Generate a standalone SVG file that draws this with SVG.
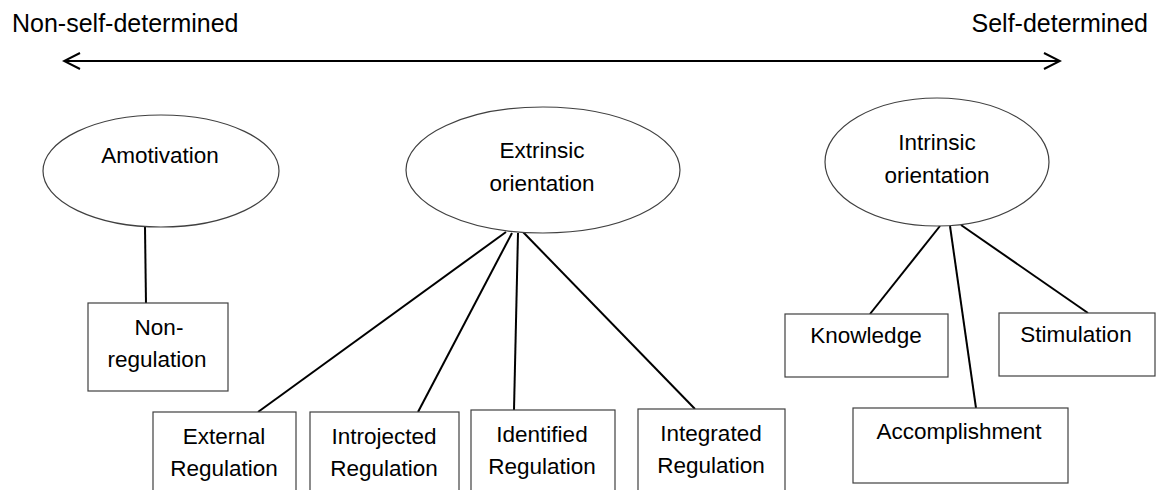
<svg xmlns="http://www.w3.org/2000/svg" width="1157" height="490" viewBox="0 0 1157 490">
<style>
.shape{fill:#fff;stroke:#404040;stroke-width:1.2}
.conn{stroke:#000;stroke-width:2;fill:none}
text{font-family:"Liberation Sans",Arial,sans-serif;font-size:22.5px;fill:#000;text-anchor:middle}
.hdr{font-size:25px;text-anchor:start}
</style>
<defs>
<marker id="chev" viewBox="0 0 20 20" refX="18" refY="10" markerWidth="20" markerHeight="20" markerUnits="userSpaceOnUse" orient="auto-start-reverse">
<path d="M2,2 L18,10 L2,18" fill="none" stroke="#000" stroke-width="2"/>
</marker>
</defs>
<rect width="1157" height="490" fill="#fff"/>
<text class="hdr" x="12" y="32">Non-self-determined</text>
<text class="hdr" x="1148" y="32" style="text-anchor:end">Self-determined</text>
<g id="connectors">
<line class="conn" x1="64" y1="61" x2="1060" y2="61" marker-start="url(#chev)" marker-end="url(#chev)"/>
<line class="conn" x1="145" y1="227" x2="146" y2="304"/>
<line class="conn" x1="506" y1="232" x2="258" y2="412"/>
<line class="conn" x1="512" y1="233" x2="418" y2="412"/>
<line class="conn" x1="518" y1="233" x2="514" y2="410"/>
<line class="conn" x1="523" y1="232" x2="695" y2="409"/>
<line class="conn" x1="940" y1="226" x2="870" y2="314"/>
<line class="conn" x1="950" y1="226" x2="976" y2="408"/>
<line class="conn" x1="961" y1="225" x2="1088" y2="313"/>
</g>
<g id="amotivation">
<ellipse class="shape" cx="161" cy="171" rx="118" ry="56"/>
<text x="160" y="163">Amotivation</text>
</g>
<g id="extrinsic">
<ellipse class="shape" cx="543" cy="170" rx="137" ry="63"/>
<text x="542" y="158">Extrinsic</text>
<text x="542" y="191">orientation</text>
</g>
<g id="intrinsic">
<ellipse class="shape" cx="937" cy="162" rx="112" ry="64"/>
<text x="937" y="150">Intrinsic</text>
<text x="937" y="183">orientation</text>
</g>
<g id="nonregulation">
<rect class="shape" x="88" y="303" width="140" height="88"/>
<text x="159" y="335">Non-</text>
<text x="157" y="367">regulation</text>
</g>
<g id="external">
<rect class="shape" x="153" y="412" width="143" height="82"/>
<text x="224" y="444">External</text>
<text x="224" y="476">Regulation</text>
</g>
<g id="introjected">
<rect class="shape" x="310" y="412" width="149" height="82"/>
<text x="384" y="444">Introjected</text>
<text x="384" y="476">Regulation</text>
</g>
<g id="identified">
<rect class="shape" x="471" y="410" width="144" height="84"/>
<text x="542" y="442">Identified</text>
<text x="542" y="474">Regulation</text>
</g>
<g id="integrated">
<rect class="shape" x="638" y="409" width="147" height="85"/>
<text x="711" y="441">Integrated</text>
<text x="711" y="473">Regulation</text>
</g>
<g id="knowledge">
<rect class="shape" x="785" y="314" width="163" height="63"/>
<text x="866" y="343">Knowledge</text>
</g>
<g id="stimulation">
<rect class="shape" x="999" y="313" width="156" height="63"/>
<text x="1076" y="342">Stimulation</text>
</g>
<g id="accomplishment">
<rect class="shape" x="853" y="408" width="215" height="75"/>
<text x="959" y="439">Accomplishment</text>
</g>
</svg>
